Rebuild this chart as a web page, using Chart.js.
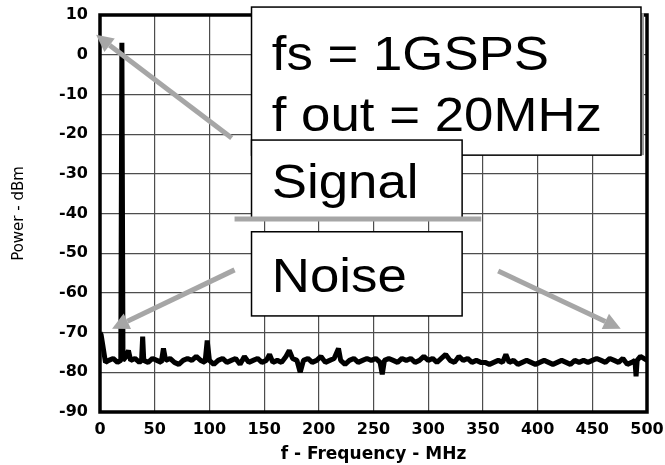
<!DOCTYPE html>
<html lang="en">
<head>
    <meta charset="UTF-8">
    <title>Spectrum - fs 1GSPS</title>
    <script src="https://cdn.jsdelivr.net/npm/chart.js"></script>
    <style>
        html, body { margin: 0; padding: 0; background: #fff; }
        #wrap { width: 665px; height: 465px; }
    </style>
</head>
<body>
    <div id="wrap"><canvas id="spectrum"></canvas></div>

    <script>
        // frequency (MHz) and power (dBm)
        var freqs = [0, 1, 3, 5, 8, 12, 16, 19, 20, 21,
            24, 26, 28, 32, 36, 38, 39, 40, 44, 48,
            52, 56, 58, 60, 64, 68, 72, 76, 80, 84,
            88, 92, 96, 98, 100, 104, 108, 112, 116, 120,
            124, 128, 132, 136, 140, 144, 148, 152, 155, 158,
            162, 166, 170, 173, 176, 180, 183, 186, 190, 194,
            198, 202, 206, 210, 214, 218, 220, 224, 228, 232,
            236, 240, 244, 248, 252, 256, 258, 260, 264, 268,
            272, 276, 280, 284, 288, 292, 296, 300, 304, 308,
            312, 316, 320, 324, 328, 332, 336, 340, 344, 348,
            352, 356, 360, 364, 368, 371, 374, 378, 382, 386,
            390, 394, 398, 402, 406, 410, 414, 418, 422, 426,
            430, 434, 438, 442, 446, 450, 454, 458, 462, 466,
            470, 474, 478, 482, 486, 489, 490, 491, 494, 497,
            500];
        var power = [-70, -70.5, -74, -77.5, -77, -76.5, -77.5, -77, 3, -77,
            -76, -74.5, -77, -76.5, -77.5, -77, -71, -77, -77.5, -76.5,
            -77, -77.5, -74, -77, -76.5, -77.5, -78, -77, -76.5, -77,
            -76, -77, -77.5, -72, -77, -78, -77, -76.5, -77.5, -77,
            -76.5, -78, -76, -77.5, -77, -76.5, -77.5, -77, -75.5, -77.5,
            -77, -77.5, -76, -74.5, -76.5, -77, -80, -77, -76.5, -77.5,
            -77, -76, -77.5, -77, -76.5, -74, -77, -78, -77, -76.5,
            -77.5, -77, -76.5, -77, -76.5, -77.5, -80.5, -77, -76.5, -77,
            -77.5, -76.5, -77, -76.5, -77.5, -77, -76, -77, -76.5, -77.5,
            -76.5, -75.5, -77, -77.5, -76, -77, -76.5, -77.5, -77, -77.5,
            -77.5, -78, -77.5, -77, -77.5, -75.5, -77.5, -77, -78, -77.5,
            -77, -77.5, -78, -77.5, -77, -77.5, -78, -77.5, -77, -77.5,
            -78, -77, -77.5, -77, -77.5, -77, -76.5, -77, -77.5, -76.5,
            -77, -77.5, -76.5, -78, -77.5, -77, -81, -77, -76, -76.5,
            -77];

        var xRange = [0, 500];
        var yRange = [-90, 10];

        // callout boxes / arrows, in data units (MHz, dBm)
        var boxes = [
            { x0: 138.5, x1: 494.5, y0: 12, y1: -25.3, textX: 157, lines: [["fs = 1GSPS", -3.9], ["f out = 20MHz", -19.2]], shadow: true },
            { x0: 138.5, x1: 331, y0: -21.5, y1: -41.6, textX: 157, lines: [["Signal", -36.1]] },
            { x0: 138.5, x1: 331, y0: -44.6, y1: -65.8, textX: 157, lines: [["Noise", -59.8]] }
        ];
        var divider = { x0: 123, x1: 348.5, y: -41.4 };
        var arrows = [
            { from: [120.4, -21], to: [-3.6, 5] },
            { from: [123, -54.2], to: [11, -69] },
            { from: [364, -54.5], to: [476, -69] }
        ];

        var points = freqs.map(function (f, i) { return { x: f, y: power[i] }; });

        var GRAY = "#a6a6a6";

        function arrow(ctx, x1, y1, x2, y2) {
            var ang = Math.atan2(y2 - y1, x2 - x1);
            var len = 17, half = 8.5;
            var bx = x2 - len * Math.cos(ang), by = y2 - len * Math.sin(ang);
            ctx.beginPath();
            ctx.moveTo(x1, y1);
            ctx.lineTo(bx, by);
            ctx.stroke();
            ctx.beginPath();
            ctx.moveTo(x2, y2);
            ctx.lineTo(bx + half * Math.sin(ang), by - half * Math.cos(ang));
            ctx.lineTo(bx - half * Math.sin(ang), by + half * Math.cos(ang));
            ctx.closePath();
            ctx.fill();
        }

        var overlay = {
            id: "overlay",
            afterDatasetsDraw: function (chart) {
                var ctx = chart.ctx, a = chart.chartArea;
                var x = chart.scales.x, y = chart.scales.y;
                ctx.save();

                // heavy plot frame
                ctx.strokeStyle = "#000";
                ctx.lineWidth = 3.5;
                ctx.strokeRect(a.left, a.top, a.right - a.left, a.bottom - a.top);

                // callout boxes
                boxes.forEach(function (b) {
                    var l = x.getPixelForValue(b.x0), r = x.getPixelForValue(b.x1);
                    var t = y.getPixelForValue(b.y0), btm = y.getPixelForValue(b.y1);
                    if (b.shadow) {
                        ctx.fillStyle = "#9a9a9a";
                        ctx.fillRect(r, t + 6, 3, btm - t - 6);
                    }
                    ctx.fillStyle = "#fff";
                    ctx.fillRect(l, t, r - l, btm - t);
                    ctx.strokeStyle = "#000";
                    ctx.lineWidth = 1.5;
                    ctx.strokeRect(l, t, r - l, btm - t);

                    ctx.fillStyle = "#000";
                    ctx.font = '48px "Liberation Sans", Arial, sans-serif';
                    ctx.textBaseline = "alphabetic";
                    ctx.textAlign = "left";
                    b.lines.forEach(function (ln) {
                        var tx = x.getPixelForValue(b.textX), ty = y.getPixelForValue(ln[1]);
                        ctx.save();
                        ctx.translate(tx, ty);
                        ctx.scale(1.1, 1);
                        ctx.fillText(ln[0], 0, 0);
                        ctx.restore();
                    });
                });

                // gray rule under "Signal"
                ctx.strokeStyle = GRAY;
                ctx.fillStyle = GRAY;
                ctx.lineWidth = 5;
                ctx.beginPath();
                ctx.moveTo(x.getPixelForValue(divider.x0), y.getPixelForValue(divider.y));
                ctx.lineTo(x.getPixelForValue(divider.x1), y.getPixelForValue(divider.y));
                ctx.stroke();

                arrows.forEach(function (ar) {
                    arrow(ctx,
                        x.getPixelForValue(ar.from[0]), y.getPixelForValue(ar.from[1]),
                        x.getPixelForValue(ar.to[0]), y.getPixelForValue(ar.to[1]));
                });
                ctx.restore();
            }
        };

        // pin the plot box; drop the label overhang padding chart.js adds
        function fixX(s) {
            s.height = 53;
            s.paddingLeft = 0; s.paddingRight = 0;
        }
        function fixY(s) {
            s.width = 100;
            s.paddingTop = 0; s.paddingBottom = 0;
        }

        Chart.defaults.font.family = '"Liberation Sans", Arial, sans-serif';
        Chart.defaults.color = "#000";

        new Chart(document.getElementById("spectrum"), {
            type: "line",
            data: {
                datasets: [{
                    data: points,
                    borderColor: "#000",
                    borderWidth: 5,
                    borderJoinStyle: "bevel",
                    pointRadius: 0,
                    tension: 0
                }]
            },
            options: {
                responsive: true,
                maintainAspectRatio: false,
                animation: false,
                layout: { padding: { top: 15, right: 18, left: 0, bottom: 0 } },
                plugins: {
                    legend: { display: false },
                    tooltip: { enabled: false }
                },
                scales: {
                    x: {
                        type: "linear",
                        min: xRange[0],
                        max: xRange[1],
                        afterFit: fixX,
                        ticks: {
                            stepSize: 50,
                            padding: 8,
                            maxRotation: 0,
                            font: { family: '"DejaVu Sans"', size: 16, weight: "bold" }
                        },
                        grid: { color: "#4d4d4d", lineWidth: 1.2, drawTicks: false },
                        border: { display: false },
                        title: {
                            display: true,
                            text: "f - Frequency - MHz",
                            font: { family: '"DejaVu Sans"', size: 17, weight: "bold" },
                            padding: { top: 0, bottom: 0 }
                        }
                    },
                    y: {
                        min: yRange[0],
                        max: yRange[1],
                        afterFit: fixY,
                        ticks: {
                            stepSize: 10,
                            padding: 12,
                            font: { family: '"DejaVu Sans"', size: 16, weight: "bold" }
                        },
                        grid: { color: "#4d4d4d", lineWidth: 1.2, drawTicks: false },
                        border: { display: false },
                        title: {
                            display: true,
                            text: "Power - dBm",
                            font: { family: '"DejaVu Sans"', size: 15 },
                            padding: { top: 10, bottom: 0 }
                        }
                    }
                }
            },
            plugins: [overlay]
        });
    </script>
</body>
</html>
